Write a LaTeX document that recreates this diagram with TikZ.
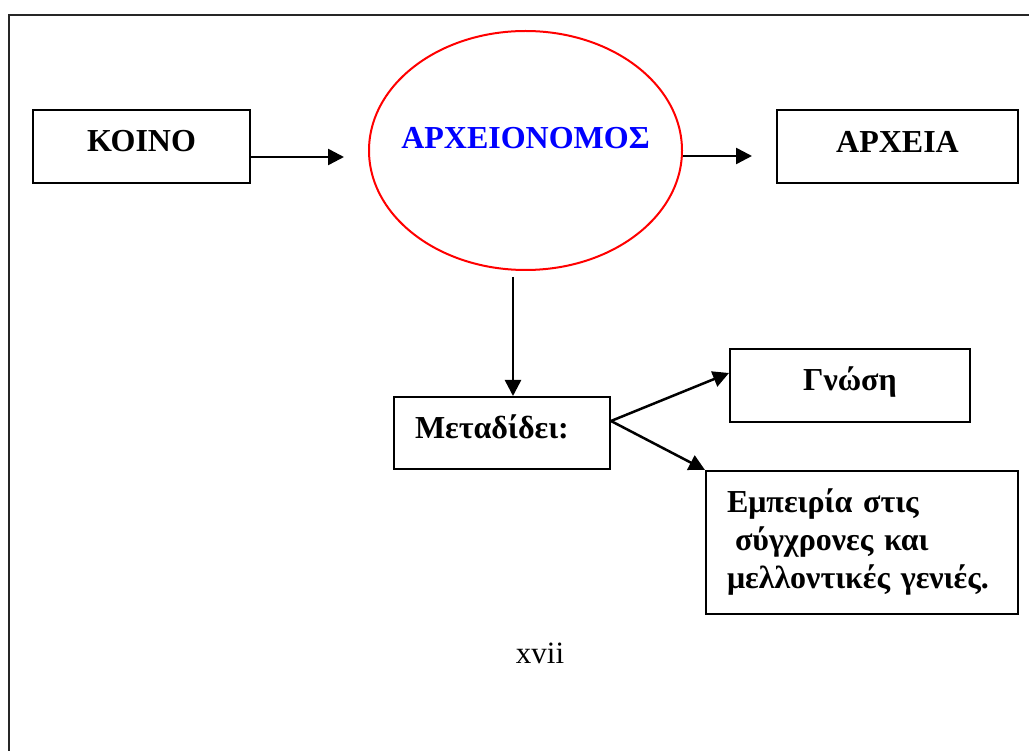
\documentclass[tikz,border=0pt]{standalone}
\usepackage{fontspec}
\setmainfont{Liberation Serif}
\usetikzlibrary{arrows.meta, shapes.geometric, calc}
\tikzset{
  every picture/.style={line width=2pt},
  framed/.style={draw, inner sep=0pt, font=\bfseries\fontsize{32}{38}\selectfont},
  rectbox/.style={framed, minimum width=#1, minimum height=73pt, text height=21pt, text depth=10pt},
  oval/.style={ellipse, draw=red, inner ysep=0pt, inner xsep=-14pt, minimum width=313pt, minimum height=239pt, text=blue, text height=21pt, text depth=25pt, font=\bfseries\fontsize{32}{38}\selectfont},
  arrow/.style={-{Triangle[length=16pt, width=16pt]}, line width=2.5pt},
  pagenum/.style={font=\fontsize{31}{36}\selectfont, anchor=base},
}
\begin{document}
\begin{tikzpicture}[x=1pt, y=-1pt]
  \useasboundingbox (0,0) rectangle (1029,751);
  % page frame
  \draw[black!85] (9,751) -- (9,15) -- (1029,15);
  \node[rectbox=217pt] (koino) at (141.5,146.5) {ΚΟΙΝΟ};
  \node[oval] (arxeionomos) at (525.5,150.5) {ΑΡΧΕΙΟΝΟΜΟΣ};
  \node[rectbox=241pt] (arxeia) at (897.5,147) {ΑΡΧΕΙΑ};
  \node[rectbox=216pt, minimum height=72pt, text width=174pt, inner xsep=21pt, align=left] (metadidei) at (502,433) {Μεταδίδει:};
  \node[rectbox=240pt] (gnosi) at (850,385.5) {Γνώση};
  \node[framed, minimum width=312pt, minimum height=143pt, text width=270pt, inner xsep=21pt, align=left] (empeiria) at (862,542.5) {Εμπειρία στις\\ \hspace*{8pt}σύγχρονες και\\ μελλοντικές γενιές.};
  \node[pagenum] (page) at (540,663) {xvii};
  \draw[arrow, shorten >=24pt] ([yshift=-10.5pt]koino.east) -- ([yshift=-10.5pt]koino.east -| arxeionomos.west);
  \draw[arrow, shorten >=24pt] (arxeionomos.-2.4) -- (arxeionomos.-2.4 -| arxeia.west);
  \draw[arrow] ([xshift=-12.5pt, yshift=-6pt]arxeionomos.south) -- ([xshift=-12.5pt]arxeionomos.south |- metadidei.north);
  \draw[arrow] ([yshift=12pt]metadidei.east) -- ([yshift=12.5pt]gnosi.west);
  \draw[arrow] ([yshift=12pt]metadidei.east) -- (empeiria.north west);
\end{tikzpicture}
\end{document}
